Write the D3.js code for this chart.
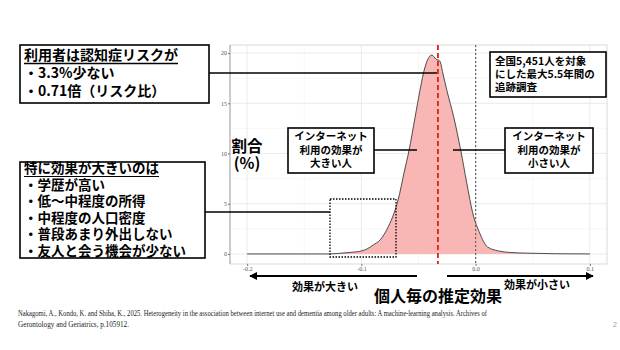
<!DOCTYPE html>
<html><head><meta charset="utf-8">
<script src="https://cdn.jsdelivr.net/npm/d3@7"></script>
<style>
html,body{margin:0;padding:0;background:#fff;}
svg{display:block;}
.jp{font-family:"Noto Sans CJK JP","Noto Sans",sans-serif;font-weight:700;fill:#000;}
</style></head>
<body>
<svg id="chart" width="620" height="350"></svg>
<script>
// ---- data ----
const effectX = [-0.2,-0.13,-0.12,-0.11,-0.1,-0.095,-0.0896,-0.0835,-0.0765,-0.0713,-0.0678,-0.0626,-0.0583,-0.053,-0.0487,-0.0443,-0.04,-0.0383,-0.0348,-0.0313,-0.0287,-0.0252,-0.0191,-0.013,-0.0078,-0.0026,0.0035,0.0104,0.02,0.03,0.045,0.07,0.1];
const density = [0,0,0.05,0.15,0.3,0.5,0.9,1.4,2.7,4.1,5.4,8.1,10.3,13.6,16.3,18.6,19.7,19.8,19.4,19.2,18.0,16.3,13.6,10.3,7.1,4.1,2.1,0.7,0.3,0.15,0.08,0.02,0];
const xTicks = [-0.2,-0.1,0.0,0.1];
const xTickLabels = ["-0.2","-0.1","0.0","0.1"];
const yTicks = [0,5,10,15,20];
const meanEffect = -0.033;
const refEffect = 0;
const box1Lines = ["利用者は認知症リスクが","・3.3%少ない","・0.71倍（リスク比）"];
const box2Lines = ["特に効果が大きいのは","・学歴が高い","・低～中程度の所得","・中程度の人口密度","・普段あまり外出しない","・友人と会う機会が少ない"];
const bigLabel = ["インターネット","利用の効果が","大きい人"];
const smallLabel = ["インターネット","利用の効果が","小さい人"];
const studyLabel = ["全国5,451人を対象","にした最大5.5年間の","追跡調査"];
const yTitle = ["割合","(%)"];
const xTitle = "個人毎の推定効果";
const leftArrowLabel = "効果が大きい";
const rightArrowLabel = "効果が小さい";
const citation = ["Nakagomi, A., Kondo, K. and Shiba, K., 2025. Heterogeneity in the association between internet use and dementia among older adults: A machine-learning analysis. Archives of","Gerontology and Geriatrics, p.105912."];

const svg = d3.select("#chart");
const P = {l:230, r:607, t:45, b:264};
const x = d3.scaleLinear().domain([-0.215, 0.115]).range([P.l, P.r]);
const y = d3.scaleLinear().domain([-1.0, 20.8]).range([P.b, P.t]);

// grid
const g = svg.append("g");
const minorX = [-0.15,-0.05,0.05];
const minorY = [2.5,7.5,12.5,17.5];
g.selectAll(".mx").data(minorX).join("line").attr("x1",d=>x(d)).attr("x2",d=>x(d)).attr("y1",P.t).attr("y2",P.b).attr("stroke","#f2f2f2").attr("stroke-width",0.6);
g.selectAll(".my").data(minorY).join("line").attr("y1",d=>y(d)).attr("y2",d=>y(d)).attr("x1",P.l).attr("x2",P.r).attr("stroke","#f2f2f2").attr("stroke-width",0.6);
g.selectAll(".gx").data(xTicks).join("line").attr("x1",d=>x(d)).attr("x2",d=>x(d)).attr("y1",P.t).attr("y2",P.b).attr("stroke","#e6e6e6").attr("stroke-width",0.8);
g.selectAll(".gy").data(yTicks).join("line").attr("y1",d=>y(d)).attr("y2",d=>y(d)).attr("x1",P.l).attr("x2",P.r).attr("stroke","#e6e6e6").attr("stroke-width",0.8);
g.append("rect").attr("x",P.l).attr("y",P.t).attr("width",P.r-P.l).attr("height",P.b-P.t).attr("fill","none").attr("stroke","#d0d0d0").attr("stroke-width",0.8);
g.append("line").attr("x1",P.l).attr("x2",P.l).attr("y1",P.t).attr("y2",P.b).attr("stroke","#aaa").attr("stroke-width",1);

// axes
const xa = svg.append("g").attr("transform",`translate(0,${P.b})`)
  .call(d3.axisBottom(x).tickValues(xTicks).tickFormat((d,i)=>xTickLabels[i]).tickSize(2).tickPadding(1));
const ya = svg.append("g").attr("transform",`translate(${P.l},0)`)
  .call(d3.axisLeft(y).tickValues(yTicks).tickSize(2).tickPadding(1));
[xa,ya].forEach(a=>{
  a.select(".domain").remove();
  a.selectAll(".tick line").attr("stroke","#777");
  a.selectAll("text").attr("font-family","Liberation Serif, serif").attr("font-size",6).attr("fill","#555");
});

// density
const pts = effectX.map((v,i)=>[v,density[i]]);
svg.append("path").datum(pts)
  .attr("d", d3.area().x(d=>x(d[0])).y0(y(0)).y1(d=>y(d[1])).curve(d3.curveMonotoneX))
  .attr("fill","#f8b7b4");
svg.append("path").datum(pts)
  .attr("d", d3.line().x(d=>x(d[0])).y(d=>y(d[1])).curve(d3.curveMonotoneX))
  .attr("fill","none").attr("stroke","#3a3a3a").attr("stroke-width",0.9);

// vertical lines
svg.append("line").attr("x1",x(meanEffect)).attr("x2",x(meanEffect)).attr("y1",P.t).attr("y2",P.b)
  .attr("stroke","#e0201b").attr("stroke-width",1.8).attr("stroke-dasharray","5,3");
svg.append("line").attr("x1",x(refEffect)).attr("x2",x(refEffect)).attr("y1",P.t).attr("y2",P.b)
  .attr("stroke","#666").attr("stroke-width",1.2).attr("stroke-dasharray","2,2");

function box(x0,y0,w,h){
  svg.append("rect").attr("x",x0).attr("y",y0).attr("width",w).attr("height",h)
    .attr("fill","#fff").attr("stroke","#000").attr("stroke-width",1.6);
}
function hline(x1,x2,yy,w){
  svg.append("line").attr("x1",x1).attr("x2",x2).attr("y1",yy).attr("y2",yy).attr("stroke","#000").attr("stroke-width",w||1.5);
}
// multi-line text as a single text element with tspans
function multi(lines, x0, y0, dy, size, anchor){
  const t = svg.append("text").attr("class","jp").attr("font-size",size).attr("text-anchor",anchor||"start");
  lines.forEach((s,i)=>t.append("tspan").attr("x",x0).attr("y",y0+i*dy).text(s));
  return t;
}

// leader lines
hline(209, x(meanEffect)-1, 73);
hline(205, 330, 212);
hline(374, 417, 150);
hline(453, 505, 150);

// box 1
box(20,45,189,58);
const t1 = multi(box1Lines, 24, 60, 18, 14);
{ const w = t1.select("tspan").node().getComputedTextLength(); hline(24,24+w,63.5,1.3); }
// box 2
box(20,162,185,96);
const t2 = multi(box2Lines, 24, 173, 16.5, 13.5);
{ const w = t2.select("tspan").node().getComputedTextLength(); hline(24,24+w,176.5,1.2); }
// dotted box
svg.append("rect").attr("x",330).attr("y",199).attr("width",66).attr("height",58).attr("fill","none")
  .attr("stroke","#000").attr("stroke-width",1.3).attr("stroke-dasharray","1.5,1.5");

// small labels
box(288,128,86,45);
multi(bigLabel, 331, 140, 13.5, 10.5, "middle");
box(505,128,88,45);
multi(smallLabel, 549, 140, 13.5, 10.5, "middle");
box(490,52,116,45);
multi(studyLabel, 495, 65, 12.8, 10.5);

// y title
multi(yTitle, 247, 152, 17, 15.5, "middle");

// arrows
const defs = svg.append("defs");
defs.append("marker").attr("id","ah").attr("viewBox","0 0 10 10").attr("refX",9).attr("refY",5)
  .attr("markerWidth",4).attr("markerHeight",4).attr("orient","auto-start-reverse")
  .append("path").attr("d","M0,0L10,5L0,10z").attr("fill","#000");
svg.append("line").attr("x1",417).attr("x2",250).attr("y1",276).attr("y2",276).attr("stroke","#000").attr("stroke-width",2).attr("marker-end","url(#ah)");
svg.append("line").attr("x1",447).attr("x2",593).attr("y1",276).attr("y2",276).attr("stroke","#000").attr("stroke-width",2).attr("marker-end","url(#ah)");
svg.append("text").attr("class","jp").attr("x",325).attr("y",291).attr("text-anchor","middle").attr("font-size",11).text(leftArrowLabel);
svg.append("text").attr("class","jp").attr("x",537).attr("y",289).attr("text-anchor","middle").attr("font-size",11).text(rightArrowLabel);
svg.append("text").attr("class","jp").attr("x",438).attr("y",302).attr("text-anchor","middle").attr("font-size",16).text(xTitle);

// citation
const cit = svg.append("text").attr("font-family","Liberation Serif, serif").attr("font-size",7.2).attr("fill","#222");
cit.append("tspan").attr("x",18).attr("y",316).attr("textLength",469).attr("lengthAdjust","spacingAndGlyphs").text(citation[0]);
cit.append("tspan").attr("x",18).attr("y",326.5).text(citation[1]);
svg.append("text").attr("x",613).attr("y",327).attr("font-family","Liberation Sans, sans-serif").attr("font-size",7).attr("fill","#999").text("2");
</script>
</body></html>
